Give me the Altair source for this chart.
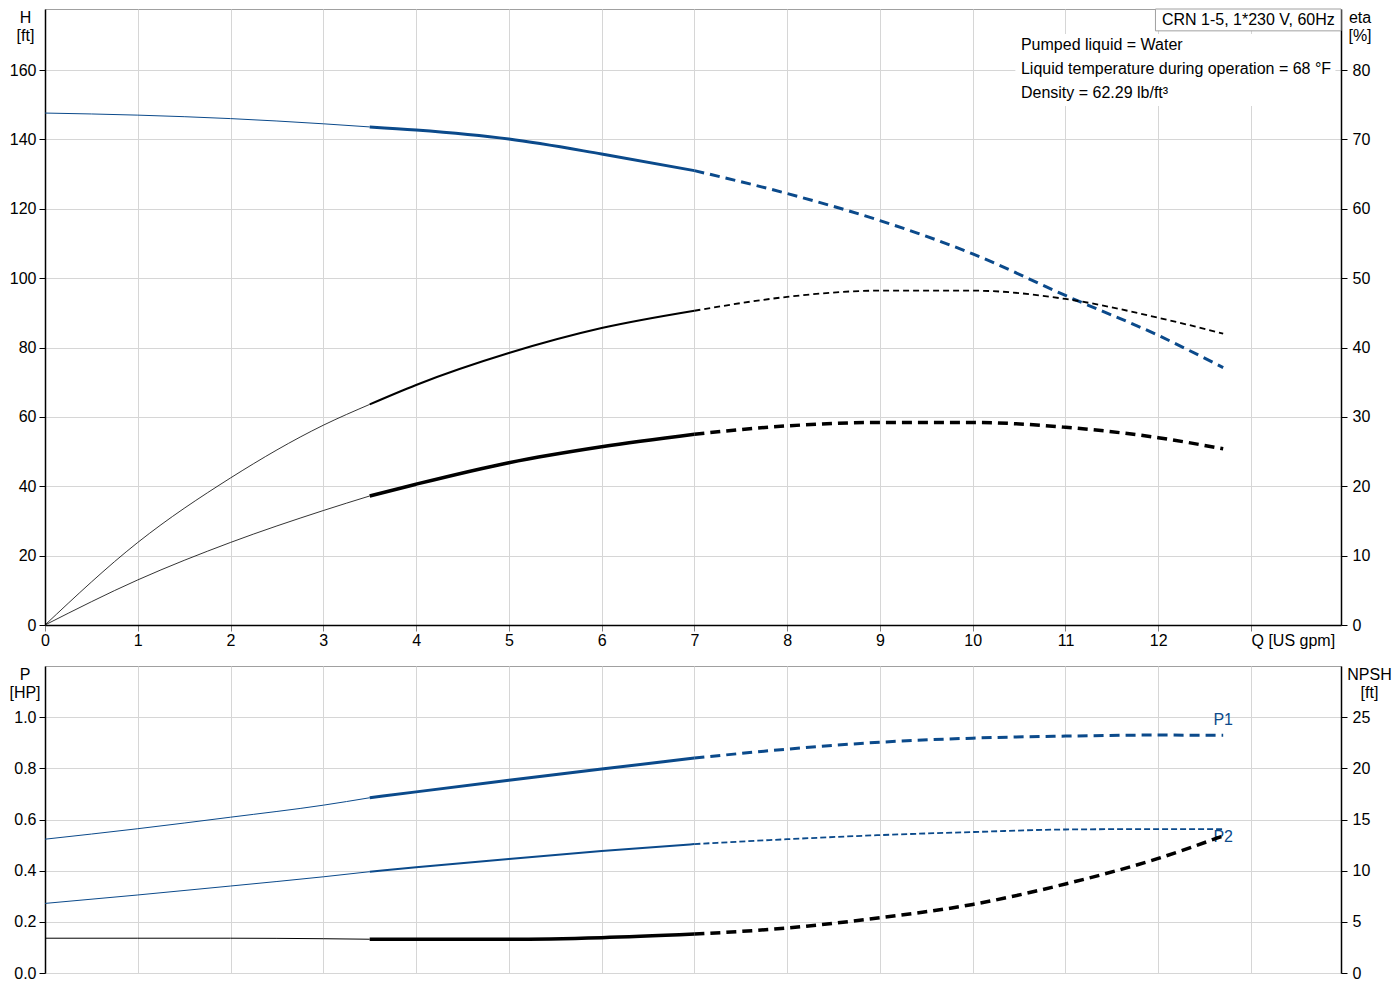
import altair as alt
import pandas as pd

# ---------------- data ----------------
Q = [0, 1, 2, 3, 3.5, 4, 5, 6, 7, 8, 9, 10, 11, 12, 12.7]
H = [147.6, 147.0, 146.0, 144.5, 143.6, 142.7, 140.1, 135.8, 131.0, 124.4, 116.6, 107.0, 95.0, 83.5, 74.2]
ETA = [0, 11.9, 21.2, 28.8, 31.8, 34.6, 39.2, 42.8, 45.3, 47.3, 48.2, 48.2, 47.0, 44.3, 42.0]
ETA_TOT = [0, 6.5, 11.9, 16.5, 18.6, 20.3, 23.4, 25.7, 27.5, 28.7, 29.2, 29.2, 28.5, 27.0, 25.4]
P1 = [0.523, 0.564, 0.609, 0.656, 0.685, 0.708, 0.753, 0.797, 0.840, 0.875, 0.902, 0.918, 0.926, 0.930, 0.929]
P2 = [0.272, 0.305, 0.340, 0.376, 0.396, 0.413, 0.446, 0.477, 0.504, 0.523, 0.539, 0.551, 0.561, 0.5625, 0.5625]
NPSH = [3.4, 3.4, 3.4, 3.35, 3.3, 3.3, 3.3, 3.45, 3.8, 4.4, 5.4, 6.7, 8.7, 11.2, 13.4]

X_TICKS = list(range(14))
H_TICKS = [0, 20, 40, 60, 80, 100, 120, 140, 160]
ETA_TICKS = [0, 10, 20, 30, 40, 50, 60, 70, 80]
P_TICKS = [0.0, 0.2, 0.4, 0.6, 0.8, 1.0]
NPSH_TICKS = [0, 5, 10, 15, 20, 25]

TITLE_BOX = "CRN 1-5, 1*230 V, 60Hz"
INFO_LINES = ["Pumped liquid = Water",
              "Liquid temperature during operation = 68 °F",
              "Density = 62.29 lb/ft³"]

# ---------------- styling ----------------
BLUE = "#0b4a8b"
BLACK = "#000000"
GRID = "#d6d6d6"
FRAME = "#a0a0a0"
FONT = "Liberation Sans"
FS = 16

W = 1296
H_TOP = 616
H_BOT = 307
XMAX = 13.97
H_MAX = 177.6
ETA_MAX = H_MAX / 2
P_MAX = 1.2
NPSH_MAX = 30

xscale = alt.Scale(domain=[0, XMAX], nice=False, zero=False)
s_H = alt.Scale(domain=[0, H_MAX], nice=False, zero=False)
s_ETA = alt.Scale(domain=[0, ETA_MAX], nice=False, zero=False)
s_P = alt.Scale(domain=[0, P_MAX], nice=False, zero=False)
s_N = alt.Scale(domain=[0, NPSH_MAX], nice=False, zero=False)

AX = dict(labelFontSize=FS, labelFont=FONT, labelColor="black",
          titleFontSize=FS, titleFont=FONT, titleFontWeight="normal", titleColor="black",
          domainColor="black", domainWidth=1.5, tickSize=6,
          gridColor=GRID, gridWidth=1)

TOP_X_AXIS = alt.Axis(values=X_TICKS, grid=True, title=None, labelFlush=False, labelOverlap=False,
                      labelExpr="datum.value == 13 ? 'Q [US gpm]' : datum.label",
                      labelAlign={"condition": {"test": "datum.value == 13", "value": "left"},
                                  "value": "center"},
                      labelPadding=1, tickColor="#808080", **AX)
BOT_X_AXIS = alt.Axis(values=X_TICKS, grid=True, title=None, labels=False, ticks=False, domain=False,
                      gridColor=GRID)


def yaxis(values, title, orient, tx, pad, fmt=None, grid=True):
    kw = dict(values=values, title=title, orient=orient, grid=grid, titleAngle=0,
              titleAlign="center", titleBaseline="top", titleX=tx, titleY=0,
              titleLineHeight=18, labelPadding=pad, tickColor="black", **AX)
    if fmt:
        kw["format"] = fmt
    return alt.Axis(**kw)


AX_H = yaxis(H_TICKS, ["H", "[ft]"], "left", -20, 3)
AX_ETA = yaxis(ETA_TICKS, ["eta", "[%]"], "right", 18.5, 5, grid=False)
AX_P = yaxis(P_TICKS, ["P", "[HP]"], "left", -20.5, 3, fmt=".1f")
AX_N = yaxis(NPSH_TICKS, ["NPSH", "[ft]"], "right", 28, 5, grid=False)


def segments(values):
    rows = []
    for seg, lo, hi in [("thin", 0, 3.5), ("solid", 3.5, 7), ("dash", 7, 12.7)]:
        for q, v in zip(Q, values):
            if lo <= q <= hi:
                rows.append({"Q": q, "v": v, "seg": seg})
    return pd.DataFrame(rows)


def curve(values, scale, color, widths, dash, xaxis, yax):
    df = segments(values)
    layers = []
    for seg, w in zip(["thin", "solid", "dash"], widths):
        mk = dict(color=color, strokeWidth=w, interpolate="monotone")
        if seg == "dash":
            mk["strokeDash"] = dash
        layers.append(
            alt.Chart(df).transform_filter(alt.datum.seg == seg).mark_line(**mk).encode(
                x=alt.X("Q:Q", scale=xscale, axis=xaxis),
                y=alt.Y("v:Q", scale=scale, axis=yax),
            )
        )
    return layers


# ---------------- top panel ----------------
box_df = pd.DataFrame({"x": [11.97], "x2": [XMAX], "y": [171.3], "y2": [H_MAX]})
crn_box = alt.Chart(box_df).mark_rect(fill="white", stroke=FRAME, strokeWidth=1).encode(
    x=alt.X("x:Q", scale=xscale, axis=TOP_X_AXIS), x2="x2:Q",
    y=alt.Y("y:Q", scale=s_H, axis=AX_H), y2="y2:Q")
crn_text = alt.Chart(pd.DataFrame({"x": [12.04], "y": [174.5], "t": [TITLE_BOX]})).mark_text(
    align="left", baseline="middle", fontSize=FS, font=FONT, color="black").encode(
    x=alt.X("x:Q", scale=xscale, axis=TOP_X_AXIS), y=alt.Y("y:Q", scale=s_H, axis=AX_H), text="t:N")

info_bg = alt.Chart(pd.DataFrame({"x": [10.46], "x2": [13.91], "y": [149.6], "y2": [170.4]})).mark_rect(
    fill="white").encode(
    x=alt.X("x:Q", scale=xscale, axis=TOP_X_AXIS), x2="x2:Q",
    y=alt.Y("y:Q", scale=s_H, axis=AX_H), y2="y2:Q")
info_df = pd.DataFrame({"t": INFO_LINES, "x": [10.52] * 3, "y": [167.2, 160.3, 153.4]})
info_text = alt.Chart(info_df).mark_text(align="left", baseline="middle", fontSize=FS, font=FONT,
                                         color="black").encode(
    x=alt.X("x:Q", scale=xscale, axis=TOP_X_AXIS), y=alt.Y("y:Q", scale=s_H, axis=AX_H), text="t:N")

h_layers = curve(H, s_H, BLUE, [1, 3, 3], [10, 6], TOP_X_AXIS, AX_H)
h_group = alt.layer(*h_layers, info_bg, info_text, crn_box, crn_text)

eta_layers = (curve(ETA, s_ETA, BLACK, [0.8, 2, 1.8], [6, 4], TOP_X_AXIS, AX_ETA)
              + curve(ETA_TOT, s_ETA, BLACK, [0.8, 3.5, 3.5], [10, 6], TOP_X_AXIS, AX_ETA))
eta_group = alt.layer(*eta_layers)

top = alt.layer(h_group, eta_group).resolve_scale(y="independent").properties(width=W, height=H_TOP)

# ---------------- bottom panel ----------------
p_layers = (curve(P1, s_P, BLUE, [1, 3, 3], [10, 6], BOT_X_AXIS, AX_P)
            + curve(P2, s_P, BLUE, [1, 2, 1.8], [6, 3], BOT_X_AXIS, AX_P))
lab_df = pd.DataFrame({"Q": [Q[-1]], "v": [P1[-1]], "t": ["P1"]})
lab2_df = pd.DataFrame({"Q": [Q[-1]], "v": [P2[-1]], "t": ["P2"]})
p1_lab = alt.Chart(lab_df).mark_text(fontSize=FS, font=FONT, color=BLUE, dy=-15).encode(
    x=alt.X("Q:Q", scale=xscale, axis=BOT_X_AXIS), y=alt.Y("v:Q", scale=s_P, axis=AX_P), text="t:N")
p2_lab = alt.Chart(lab2_df).mark_text(fontSize=FS, font=FONT, color=BLUE, dy=8).encode(
    x=alt.X("Q:Q", scale=xscale, axis=BOT_X_AXIS), y=alt.Y("v:Q", scale=s_P, axis=AX_P), text="t:N")
p_group = alt.layer(*p_layers, p1_lab, p2_lab)

n_layers = curve(NPSH, s_N, BLACK, [1, 3.5, 3.5], [10, 6], BOT_X_AXIS, AX_N)
n_group = alt.layer(*n_layers)

bottom = alt.layer(p_group, n_group).resolve_scale(y="independent").properties(width=W, height=H_BOT)

chart = alt.vconcat(top, bottom, spacing=41, bounds="flush", padding=0).configure(
    font=FONT).configure_view(stroke=FRAME, strokeWidth=1)

chart.save("out.html", embed_options={"renderer": "svg", "actions": False})
